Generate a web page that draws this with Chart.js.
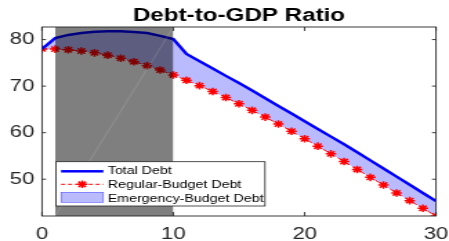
<!DOCTYPE html>
<html><head><meta charset="utf-8">
<script src="https://cdn.jsdelivr.net/npm/chart.js@4/dist/chart.umd.min.js"></script>
<style>
html,body{margin:0;padding:0;background:#fff;overflow:hidden;}
#wrap{width:325px;height:241px;transform:scaleX(1.3815);transform-origin:0 0;}
canvas{display:block;}
</style></head><body>
<div id="wrap"><canvas id="c" width="325" height="241" style="width:325px;height:241px"></canvas></div>
<script>
const titleText = 'Debt-to-GDP Ratio';
const years = [0,1,2,3,4,5,6,7,8,9,10,11,12,13,14,15,16,17,18,19,20,21,22,23,24,25,26,27,28,29,30];
const totalDebt = [78.0,80.3,81.0,81.4,81.7,81.8,81.8,81.65,81.4,80.8,80.1,76.9,75.35,73.8,72.2,70.65,69.05,67.4,65.75,64.1,62.45,60.8,59.15,57.5,55.8,54.05,52.3,50.55,48.8,47.05,45.3];
const regularDebt = [78.0,77.95,77.8,77.55,77.15,76.65,76.0,75.25,74.4,73.45,72.4,71.25,70.1,68.85,67.55,66.2,64.8,63.35,61.85,60.3,58.7,57.1,55.45,53.8,52.1,50.4,48.75,47.05,45.4,43.75,42.1];
const seriesLabels = ['Total Debt','Regular-Budget Debt','Emergency-Budget Debt'];
const xTicks = [0,10,20,30];
const yTicks = [50,60,70,80];
const shadeStart = 1, shadeEnd = 10;
const yMin = 42.1, yMax = 82.7;

const FONT = '"Liberation Sans", Arial, Helvetica, sans-serif';
const pts = arr => years.map((x,i)=>({x:x,y:arr[i]}));

function star(ctx,x,y,r){
  ctx.beginPath();
  ctx.moveTo(x-r,y);ctx.lineTo(x+r,y);
  ctx.moveTo(x,y-r);ctx.lineTo(x,y+r);
  const d=r*Math.SQRT1_2;
  ctx.moveTo(x-d,y-d);ctx.lineTo(x+d,y+d);
  ctx.moveTo(x-d,y+d);ctx.lineTo(x+d,y-d);
  ctx.stroke();
}

const decor = {
  id:'decor',
  afterDatasetsDraw(chart){
    const {ctx, chartArea:a, scales:{x,y}} = chart;
    ctx.save();
    ctx.strokeStyle='#262626'; ctx.lineWidth=0.9;
    ctx.strokeRect(a.left,a.top,a.right-a.left,a.bottom-a.top);
    ctx.beginPath();
    xTicks.forEach(v=>{const px=x.getPixelForValue(v);
      ctx.moveTo(px,a.bottom);ctx.lineTo(px,a.bottom-4);
      ctx.moveTo(px,a.top);ctx.lineTo(px,a.top+4);});
    yTicks.forEach(v=>{const py=y.getPixelForValue(v);
      ctx.moveTo(a.left,py);ctx.lineTo(a.left+2.9,py);
      ctx.moveTo(a.right,py);ctx.lineTo(a.right-2.9,py);});
    ctx.stroke();
    ctx.restore();
  },
  afterDraw(chart){
    const {ctx, chartArea:a} = chart;
    ctx.save();
    ctx.fillStyle='#000';
    ctx.font='bold 17.5px '+FONT;
    ctx.textAlign='center'; ctx.textBaseline='alphabetic';
    ctx.fillText(titleText,(a.left+a.right)/2,20.7);
    const bx=40.5, by=161.7, bw=151.3, bh=44.3;
    ctx.fillStyle='#fff'; ctx.fillRect(bx,by,bw,bh);
    ctx.strokeStyle='#262626'; ctx.lineWidth=0.8; ctx.strokeRect(bx,by,bw,bh);
    const sx0=44.2, sx1=74.8, tx=78.0;
    ctx.strokeStyle='#0000ff'; ctx.lineWidth=2.5;
    ctx.beginPath(); ctx.moveTo(sx0,171.3); ctx.lineTo(sx1,171.3); ctx.stroke();
    ctx.strokeStyle='#ff0000'; ctx.lineWidth=1; ctx.setLineDash([3,2]);
    ctx.beginPath(); ctx.moveTo(sx0,184.3); ctx.lineTo(sx1,184.3); ctx.stroke();
    ctx.setLineDash([]); ctx.lineWidth=1.5;
    star(ctx,(sx0+sx1)/2,184.3,3.8);
    ctx.fillStyle='rgba(0,0,255,0.27)'; ctx.fillRect(sx0,192.3,sx1-sx0,10);
    ctx.strokeStyle='rgba(0,0,255,0.6)'; ctx.lineWidth=0.6; ctx.strokeRect(sx0,192.3,sx1-sx0,10);
    ctx.fillStyle='#000'; ctx.font='10.3px '+FONT; ctx.textAlign='left';
    ctx.fillText(seriesLabels[0],tx,174.3);
    ctx.fillText(seriesLabels[1],tx,188.3);
    ctx.fillText(seriesLabels[2],tx,202.3);
    ctx.restore();
  }
};

const zeroPad = s => { s.paddingLeft=0; s.paddingRight=0; s.paddingTop=0; s.paddingBottom=0; };

new Chart(document.getElementById('c'),{
  type:'line',
  data:{datasets:[
    {label:seriesLabels[2], data:pts(totalDebt), fill:1, backgroundColor:'rgba(0,0,255,0.27)', borderWidth:0, borderColor:'rgba(0,0,0,0)', pointRadius:0, order:5},
    {label:seriesLabels[1], data:pts(regularDebt), borderColor:'#ff0000', borderWidth:1, borderDash:[4,3], pointStyle:'star', pointRadius:3.8, pointBorderColor:'#ff0000', pointBackgroundColor:'#ff0000', pointBorderWidth:1.5, fill:false, order:4},
    {label:seriesLabels[0], data:pts(totalDebt), borderColor:'#0000ff', borderWidth:2.5, pointRadius:0, fill:false, order:3},
    {label:'shade', data:[{x:shadeStart,y:yMax},{x:shadeEnd,y:yMax}], fill:'start', backgroundColor:'rgba(0,0,0,0.5)', borderWidth:0, borderColor:'rgba(0,0,0,0)', pointRadius:0, order:2},
    {label:'seam', data:[{x:shadeStart,y:yMin},{x:shadeEnd,y:yMax}], borderColor:'rgba(255,255,255,0.16)', borderWidth:0.8, pointRadius:0, fill:false, order:1}
  ]},
  options:{
    responsive:false, animation:false, events:[],
    layout:{padding:{left:0,right:9.4,top:27,bottom:0}},
    elements:{line:{tension:0}},
    plugins:{legend:{display:false},title:{display:false},tooltip:{enabled:false}},
    scales:{
      x:{type:'linear',min:0,max:30,
        grid:{display:false,drawTicks:false},border:{display:false},
        ticks:{font:{family:FONT,size:16},color:'#262626',padding:8.8,maxRotation:0,autoSkip:false},
        afterBuildTicks:s=>{s.ticks=xTicks.map(v=>({value:v}));},
        afterFit:s=>{s.height=25; zeroPad(s);}},
      y:{type:'linear',min:yMin,max:yMax,
        grid:{display:false,drawTicks:false},border:{display:false},
        ticks:{font:{family:FONT,size:16},color:'#262626',padding:5.6,autoSkip:false},
        afterBuildTicks:s=>{s.ticks=yTicks.map(v=>({value:v}));},
        afterFit:s=>{s.width=30.4; zeroPad(s);}}
    }
  },
  plugins:[decor]
});
</script>
</body></html>
